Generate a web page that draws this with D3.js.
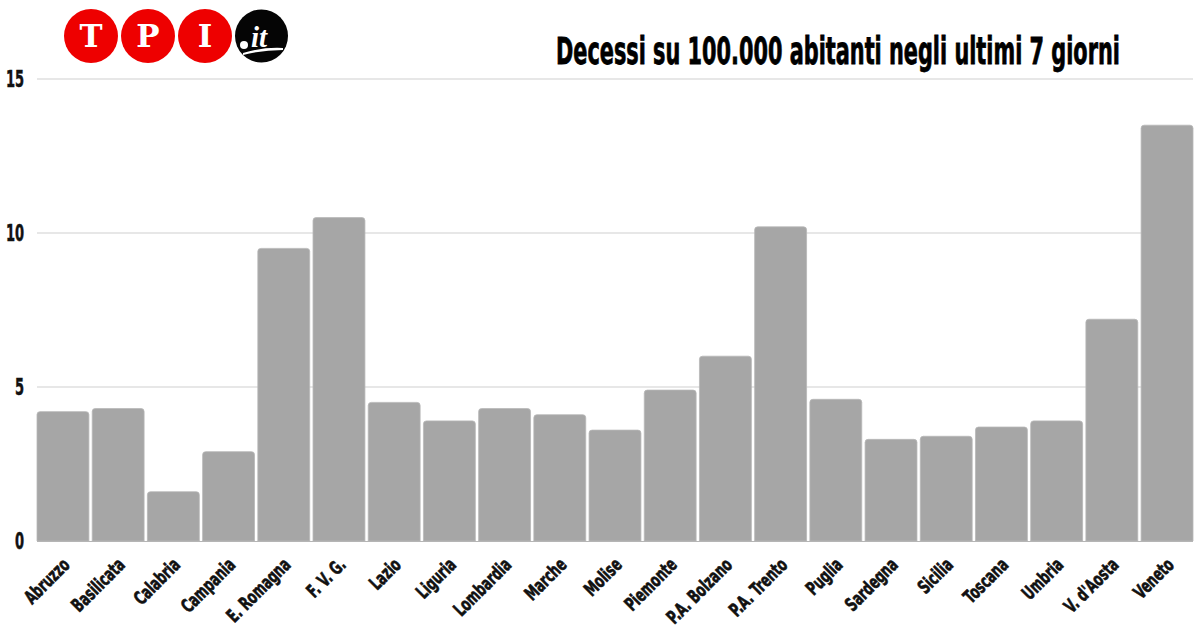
<!DOCTYPE html>
<html><head><meta charset="utf-8">
<script src="https://cdn.jsdelivr.net/npm/d3@7"></script>
<style>body{margin:0;background:#fff}svg{display:block}</style>
</head><body>
<script>
const categories = ["Abruzzo","Basilicata","Calabria","Campania","E. Romagna","F. V. G.","Lazio","Liguria","Lombardia","Marche","Molise","Piemonte","P.A. Bolzano","P.A. Trento","Puglia","Sardegna","Sicilia","Toscana","Umbria","V. d'Aosta","Veneto"];
const values = [4.2,4.3,1.6,2.9,9.5,10.5,4.5,3.9,4.3,4.1,3.6,4.9,6.0,10.2,4.6,3.3,3.4,3.7,3.9,7.2,13.5];
const yTicks = [0,5,10,15];
const title = "Decessi su 100.000 abitanti negli ultimi 7 giorni";
const logoLetters = ["T","P","I"];

const W=1200,H=630;
const FONT = "'DejaVu Sans Condensed','Liberation Sans Narrow',sans-serif";
const svg=d3.select("body").append("svg").attr("width",W).attr("height",H);

const x=d3.scaleBand().domain(categories).range([37,1193]).paddingInner(0.06).paddingOuter(0.0);
const y=d3.scaleLinear().domain([0,15]).range([541,79]);

// gridlines
svg.append("g").selectAll("line").data(yTicks.filter(d=>d>0)).join("line")
  .attr("x1",37).attr("x2",1193).attr("y1",d=>y(d)).attr("y2",d=>y(d))
  .attr("stroke","#cfcfcf").attr("stroke-width",1);

// y labels
svg.append("g").selectAll("text").data(yTicks).join("text")
  .attr("transform",d=>`translate(24,${y(d)+8}) scale(0.85,1.3)`)
  .attr("text-anchor","end")
  .attr("font-family",FONT).attr("font-weight","bold").attr("font-size",17)
  .attr("fill","#111").attr("stroke","#111").attr("stroke-width",0.4).text(d=>d);

// bars
const r=3;
svg.append("g").selectAll("path").data(categories).join("path")
  .attr("d",(d,i)=>{const x0=x(d),w=x.bandwidth(),y0=y(values[i]),b=y(0);
    return `M${x0},${b}V${y0+r}Q${x0},${y0} ${x0+r},${y0}H${x0+w-r}Q${x0+w},${y0} ${x0+w},${y0+r}V${b}Z`;})
  .attr("fill","#a6a6a6").attr("stroke","#b8b8b8").attr("stroke-width",0.8);

// baseline
svg.append("line").attr("x1",37).attr("x2",1193).attr("y1",y(0)+0.5).attr("y2",y(0)+0.5)
  .attr("stroke","#b5b5b5").attr("stroke-width",1.2);

// x labels
svg.append("g").selectAll("text").data(categories).join("text")
  .attr("transform",d=>`translate(${x(d)+x.bandwidth()/2+8},${566}) rotate(-45) scale(0.9,1.25)`)
  .attr("text-anchor","end")
  .attr("font-family",FONT).attr("font-weight","bold").attr("font-size",15)
  .attr("fill","#111").attr("stroke","#111").attr("stroke-width",0.5).text(d=>d);

// title (scaled to measured width)
const t=svg.append("text")
  .attr("font-family",FONT).attr("font-weight","bold").attr("font-size",28)
  .attr("fill","#000").attr("stroke","#000").attr("stroke-width",0.6).text(title);
const natural=t.node().getComputedTextLength();
t.attr("transform",`translate(556,64) scale(${564/natural},1.3)`);

// logo
const logo=svg.append("g");
const cxs=[91,148,205];
logoLetters.forEach((L,i)=>{
  logo.append("circle").attr("cx",cxs[i]).attr("cy",36).attr("r",27).attr("fill","#ee0000");
  logo.append("text").attr("x",cxs[i]).attr("y",47).attr("text-anchor","middle")
    .attr("font-family","'DejaVu Serif','Liberation Serif',serif").attr("font-weight","bold")
    .attr("font-size",31).attr("fill","#fff").text(L);
});
logo.append("circle").attr("cx",261.5).attr("cy",36).attr("r",26.5).attr("fill","#050505");
logo.append("circle").attr("cx",244).attr("cy",45).attr("r",4).attr("fill","#fff");
logo.append("text").attr("x",251).attr("y",47)
  .attr("font-family","'Liberation Serif',serif").attr("font-style","italic").attr("font-weight","bold")
  .attr("font-size",29).attr("fill","#fff").text("it");
logo.append("path").attr("d","M243,53 Q262,47 283,48 L283,50 Q262,50 243,55Z").attr("fill","#fff");
</script>
</body></html>
